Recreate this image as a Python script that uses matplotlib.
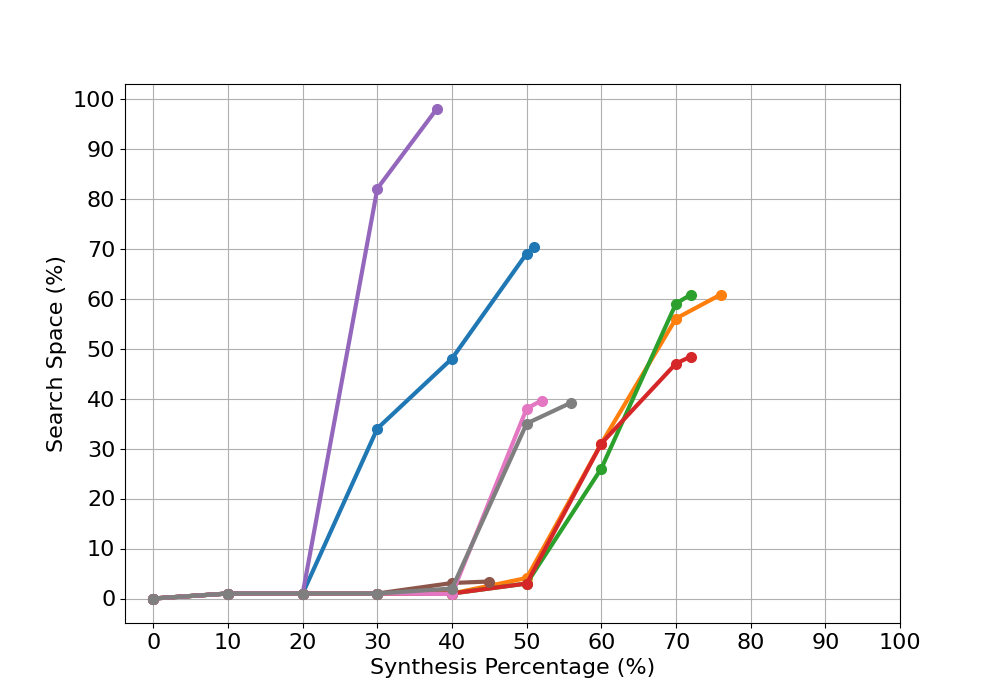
import matplotlib
matplotlib.use('Agg')
import matplotlib.pyplot as plt

# Synthesis percentage vs search space, one curve per run
x_blue = [0, 10, 20, 30, 40, 50, 51]
y_blue = [0, 1, 1, 34, 48, 69, 70.4]

x_orange = [0, 10, 20, 30, 40, 50, 60, 70, 76]
y_orange = [0, 1, 1, 1, 1, 4.1, 31, 56, 60.8]

x_green = [0, 10, 20, 30, 40, 50, 60, 70, 72]
y_green = [0, 1, 1, 1, 1, 3, 26, 59, 60.8]

x_red = [0, 10, 20, 30, 40, 50, 60, 70, 72]
y_red = [0, 1, 1, 1, 1, 3, 31, 47, 48.4]

x_purple = [0, 10, 20, 30, 38]
y_purple = [0, 1, 1, 82, 98]

x_brown = [0, 10, 20, 30, 40, 45]
y_brown = [0, 1, 1, 1, 3.1, 3.4]

x_pink = [0, 10, 20, 30, 40, 50, 52]
y_pink = [0, 1, 1, 1, 0.9, 38, 39.6]

x_gray = [0, 10, 20, 30, 40, 50, 56]
y_gray = [0, 1, 1, 1, 2, 35, 39.2]

series = [
    (x_blue, y_blue),
    (x_orange, y_orange),
    (x_green, y_green),
    (x_red, y_red),
    (x_purple, y_purple),
    (x_brown, y_brown),
    (x_pink, y_pink),
    (x_gray, y_gray),
]

plt.figure(figsize=(10, 7))
for xs, ys in series:
    plt.plot(xs, ys, marker='o', linewidth=3, markersize=7)

plt.xticks(range(0, 101, 10), fontsize=16)
plt.yticks(range(0, 101, 10), fontsize=16)
plt.xlabel('Synthesis Percentage (%)', fontsize=16)
plt.ylabel('Search Space (%)', fontsize=16)
plt.grid(True)
plt.savefig('out.png')
plt.close()
